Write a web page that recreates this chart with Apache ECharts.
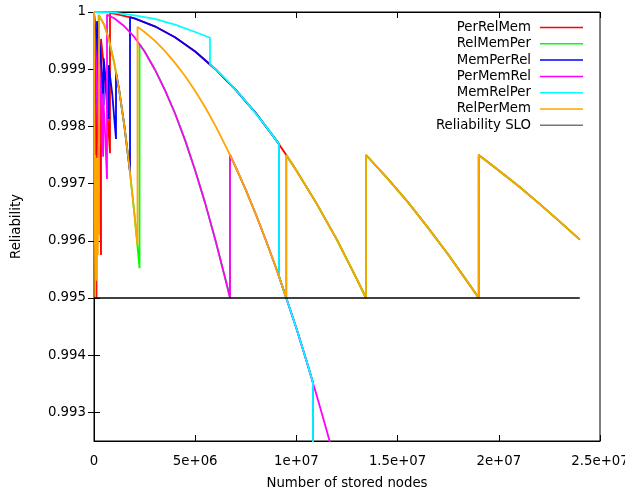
<!DOCTYPE html>
<html><head><meta charset="utf-8">
<script src="https://cdn.jsdelivr.net/npm/echarts@6/dist/echarts.min.js"></script>
<style>html,body{margin:0;padding:0;background:#fff}#c{width:625px;height:495px}</style>
</head><body><div id="c"></div>
<script>
// x in millions of stored nodes, y = reliability
const NODE_UNIT = 1e6;
const seriesNames = ['PerRelMem','RelMemPer','MemPerRel','PerMemRel','MemRelPer','RelPerMem','Reliability SLO'];
const seriesColors = ['#ff0000','#00ff00','#0000ff','#ff00ff','#00ffff','#ffa500','#000000'];

const perRelMem = [[0,1],[0.06,0.99883],[0.124,0.995],[0.124,0.99945],[0.25,0.99778],[0.346,0.99575],[0.346,0.99953],[0.5,0.99901],[0.65,0.99833],[0.79,0.99753],[0.79,0.99998],[1,0.99997],[2,0.99989],[3,0.99975],[4,0.99956],[5,0.99931],[6,0.999],[7,0.99864],[8,0.99823],[9,0.99776],[9.5,0.9975],[10,0.99723],[11,0.99665],[12,0.99602],[13,0.99532],[13.44,0.995],[13.44,0.9975],[14.5,0.99709],[15.5,0.99668],[16.5,0.99623],[17.5,0.99576],[18.5,0.99526],[19.01,0.995],[19.01,0.9975],[20,0.99723],[21,0.99695],[22,0.99665],[23,0.99634],[24,0.99602]];

const relMemPer = [[0,1],[0.1,0.99952],[0.17,0.99861],[0.227,0.99753],[0.227,0.99995],[0.5,0.99978],[0.75,0.9995],[1,0.99911],[1.25,0.99862],[1.5,0.99801],[1.75,0.99729],[2,0.99646],[2.25,0.99552],[2.25,0.99944],[2.5,0.99931],[3,0.999],[3.5,0.99864],[4,0.99823],[4.5,0.99776],[5,0.99723],[5.5,0.99665],[6,0.99601],[6.5,0.99532],[6.72,0.995],[6.72,0.9975],[7,0.99729],[7.5,0.99689],[8,0.99646],[8.5,0.996],[9,0.99552],[9.5,0.995],[9.5,0.9975],[10,0.99723],[11,0.99665],[12,0.99602],[13,0.99532],[13.44,0.995],[13.44,0.9975],[14.5,0.99709],[15.5,0.99668],[16.5,0.99623],[17.5,0.99576],[18.5,0.99526],[19.01,0.995],[19.01,0.9975],[20,0.99723],[21,0.99695],[22,0.99665],[23,0.99634],[24,0.99602]];

const memPerRel = [[0,1],[0.07,0.99964],[0.148,0.99841],[0.148,0.99984],[0.3,0.99936],[0.4,0.99887],[0.479,0.99837],[0.479,0.99919],[0.6,0.99872],[0.726,0.99813],[0.726,0.99907],[0.9,0.99857],[1.087,0.99778],[1.087,0.99895],[1.25,0.99862],[1.5,0.99801],[1.779,0.9972],[1.779,0.99991],[2,0.99989],[3,0.99975],[4,0.99956],[5,0.99931],[6,0.999],[7,0.99864],[8,0.99823],[9,0.99776],[9.14,0.99769],[9.14,0.99538],[9.5,0.995],[10,0.99447],[10.5,0.9939],[10.82,0.99352],[10.82,0.99]];

const perMemRel = [[0,1],[0.1,0.99915],[0.22,0.99745],[0.22,0.99932],[0.35,0.99845],[0.45,0.99747],[0.45,0.99857],[0.55,0.99786],[0.642,0.99708],[0.642,0.99995],[1,0.99989],[1.5,0.99975],[2,0.99956],[2.5,0.99931],[3,0.999],[3.5,0.99864],[4,0.99823],[4.5,0.99776],[5,0.99723],[5.5,0.99665],[6,0.99601],[6.5,0.99532],[6.72,0.995],[6.72,0.9975],[7,0.99729],[7.5,0.99689],[8,0.99646],[8.5,0.996],[9,0.99552],[9.5,0.995],[10,0.99447],[10.5,0.9939],[11,0.9933],[11.5,0.99268],[11.8,0.99229]];

const memRelPer = [[0,1],[1,0.99999],[2,0.99994],[3,0.99988],[4,0.99978],[5,0.99965],[5.73,0.99955],[5.73,0.99909],[6.5,0.99883],[7.5,0.99844],[8.5,0.998],[9.14,0.99769],[9.14,0.99538],[9.5,0.995],[10,0.99447],[10.5,0.9939],[10.82,0.99352],[10.82,0.99]];

const relPerMem = [[0,1],[0.03,0.9972],[0.06,0.995],[0.06,0.9975],[0.12,0.9953],[0.12,0.99745],[0.19,0.99575],[0.19,0.9974],[0.25,0.9961],[0.25,0.99994],[0.5,0.99978],[0.75,0.9995],[1,0.99911],[1.25,0.99862],[1.5,0.99801],[1.75,0.99729],[2,0.99646],[2.15,0.99591],[2.15,0.99974],[2.5,0.99965],[3,0.9995],[3.5,0.99932],[4,0.99911],[4.5,0.99888],[5,0.99862],[5.5,0.99833],[6,0.99801],[6.5,0.99766],[7,0.99729],[7.5,0.99689],[8,0.99646],[8.5,0.996],[9,0.99552],[9.5,0.995],[9.5,0.9975],[10,0.99723],[11,0.99665],[12,0.99602],[13,0.99532],[13.44,0.995],[13.44,0.9975],[14.5,0.99709],[15.5,0.99668],[16.5,0.99623],[17.5,0.99576],[18.5,0.99526],[19.01,0.995],[19.01,0.9975],[20,0.99723],[21,0.99695],[22,0.99665],[23,0.99634],[24,0.99602]];

const reliabilitySLO = [[0,0.995],[24,0.995]];

const xTickValues = [0, 5e6, 1e7, 1.5e7, 2e7, 2.5e7];
const xTickLabels = ['0','5e+06','1e+07','1.5e+07','2e+07','2.5e+07'];
const yTickValues = [0.993, 0.994, 0.995, 0.996, 0.997, 0.998, 0.999, 1];
const yTickLabels = ['0.993','0.994','0.995','0.996','0.997','0.998','0.999','1'];

const allData = [perRelMem, relMemPer, memPerRel, perMemRel, memRelPer, relPerMem, reliabilitySLO];

const FONT = 'DejaVu Sans';
const FS = 13.3;

function xLabel(v){
  for (let i=0;i<xTickValues.length;i++) if (Math.abs(v-xTickValues[i])<1) return xTickLabels[i];
  return '';
}
function yLabel(v){
  for (let i=0;i<yTickValues.length;i++) if (Math.abs(v-yTickValues[i])<1e-7) return yTickLabels[i];
  return '';
}

const series = allData.map((d,i)=>({
  name: seriesNames[i],
  type: 'line',
  data: d.map(p=>[p[0]*NODE_UNIT, p[1]]),
  symbol: 'none',
  showSymbol: false,
  clip: true,
  animation: false,
  lineStyle: {color: seriesColors[i], width: i===6 ? 1.5 : 1.8},
  itemStyle: {color: seriesColors[i]},
  emphasis: {disabled: true}
}));

const chart = echarts.init(document.getElementById('c'), null, {renderer:'canvas'});
chart.setOption({
  animation: false,
  backgroundColor: '#fff',
  textStyle: {fontFamily: FONT},
  grid: {left: 94, right: 25, top: 12, bottom: 54, show: true, borderColor: '#000', borderWidth: 1, containLabel: false, outerBoundsMode: 'none'},
  legend: {
    orient: 'vertical', right: 42, top: 20.5, align: 'right', padding: 0,
    icon: 'rect',
    itemWidth: 43, itemHeight: 1.5, itemGap: 2.3,
    textStyle: {fontFamily: FONT, fontSize: FS, lineHeight: 14, color: '#000', padding: [0,4,0,0]},
    data: seriesNames.map((n,i)=> i===6 ? {name:n, itemStyle:{color:'#777'}} : {name:n}),
    selectedMode: false
  },
  xAxis: [{
    type: 'value', min: 0, max: 2.5e7, interval: 5e6,
    name: 'Number of stored nodes', nameLocation: 'middle', nameGap: 36,
    nameTextStyle: {fontFamily: FONT, fontSize: FS, color: '#000'},
    axisLine: {show: true, lineStyle: {color: '#000', width: 1}},
    axisTick: {show: true, inside: true, length: 6, lineStyle: {color: '#000'}},
    axisLabel: {formatter: xLabel, fontFamily: FONT, fontSize: FS, color: '#000', margin: 14, showMaxLabel: true},
    splitLine: {show: false}
  },{
    type: 'value', position: 'top', min: 0, max: 2.5e7, interval: 5e6,
    axisLine: {show: true, lineStyle: {color: '#000', width: 1}},
    axisTick: {show: true, inside: true, length: 6, lineStyle: {color: '#000'}},
    axisLabel: {show: false}, splitLine: {show: false}
  }],
  yAxis: [{
    type: 'value', min: 0.9925, max: 1,
    name: 'Reliability', nameLocation: 'middle', nameGap: 71, nameRotate: 90,
    nameTextStyle: {fontFamily: FONT, fontSize: FS, color: '#000'},
    axisLine: {show: true, lineStyle: {color: '#000', width: 1}},
    axisTick: {show: true, inside: true, length: 6, lineStyle: {color: '#000'}, customValues: yTickValues},
    axisLabel: {formatter: yLabel, fontFamily: FONT, fontSize: FS, color: '#000', margin: 8, customValues: yTickValues},
    splitLine: {show: false}
  },{
    type: 'value', position: 'right', min: 0.9925, max: 1,
    axisLine: {show: true, lineStyle: {color: '#000', width: 1}},
    axisTick: {show: true, inside: true, length: 6, lineStyle: {color: '#000'}, customValues: yTickValues},
    axisLabel: {show: false, customValues: yTickValues}, splitLine: {show: false}
  }],
  series: series
});
</script></body></html>
